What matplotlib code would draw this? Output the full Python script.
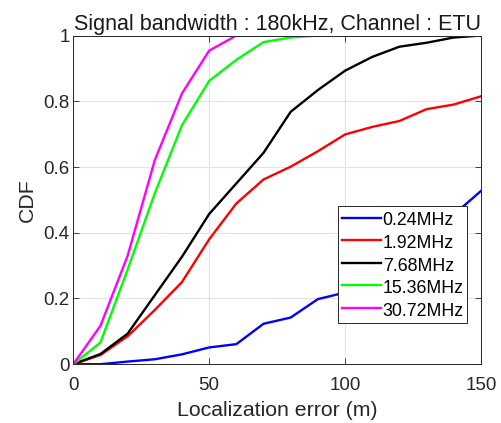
import matplotlib
matplotlib.use("Agg")
import matplotlib.pyplot as plt

plt.rcParams['font.family'] = ['Liberation Sans', 'DejaVu Sans']

err = [0, 10, 20, 30, 40, 50, 60, 70, 80, 90, 100, 110, 120, 130, 140, 150]

cdf_024 = [0, 0.0, 0.008, 0.015, 0.03, 0.051, 0.061, 0.123, 0.142, 0.198, 0.218, 0.26, 0.31, 0.38, 0.455, 0.527]
cdf_192 = [0, 0.028, 0.085, 0.165, 0.25, 0.38, 0.489, 0.562, 0.601, 0.648, 0.699, 0.722, 0.740, 0.776, 0.790, 0.815]
cdf_768 = [0, 0.031, 0.093, 0.21, 0.327, 0.457, 0.55, 0.643, 0.768, 0.834, 0.893, 0.935, 0.966, 0.978, 0.994, 1.0]
cdf_1536 = [0, 0.066, 0.288, 0.52, 0.727, 0.862, 0.926, 0.98, 0.994, 1.0, 1.0, 1.0, 1.0, 1.0, 1.0, 1.0]
cdf_3072 = [0, 0.117, 0.33, 0.621, 0.824, 0.954, 1.0, 1.0, 1.0, 1.0, 1.0, 1.0, 1.0, 1.0, 1.0, 1.0]

labels = ["0.24MHz", "1.92MHz", "7.68MHz", "15.36MHz", "30.72MHz"]
colors = ["#0000ff", "#ff0000", "#000000", "#00ff00", "#ff00ff"]

fig = plt.figure(figsize=(5.02, 4.23), dpi=100)
ax = fig.add_axes([0.146, 0.139, 0.812, 0.777])

for ys, lab, c in zip([cdf_024, cdf_192, cdf_768, cdf_1536, cdf_3072], labels, colors):
    ax.plot(err, ys, color=c, linewidth=1.7, label=lab)

ax.set_xlim(0, 150)
ax.set_ylim(0, 1)
ax.set_xticks([0, 50, 100, 150])
ax.set_yticks([0, 0.2, 0.4, 0.6, 0.8, 1])
ax.set_yticklabels(["0", "0.2", "0.4", "0.6", "0.8", "1"])
ax.grid(True, color="#e3e3e3", linewidth=0.8)
ax.set_axisbelow(True)
ax.tick_params(direction="in", top=True, right=True, labelsize=13.5,
               colors="#262626", length=4, width=0.6)
ax.tick_params(axis="x", pad=9.5)
ax.tick_params(axis="y", pad=2.5)
for s in ax.spines.values():
    s.set_color("#262626")
    s.set_linewidth(0.7)

ax.set_title("Signal bandwidth : 180kHz, Channel : ETU", fontsize=15.5,
             color="#1a1a1a", pad=4)
ax.set_xlabel("Localization error (m)", fontsize=15.3, color="#262626", labelpad=5)
ax.set_ylabel("CDF", fontsize=15.3, color="#262626", labelpad=5)

# taller handle boxes give MATLAB-like row spacing while keeping the side padding tight
leg = ax.legend(loc="upper left", bbox_to_anchor=(0.65, 0.48), fontsize=12.8,
                frameon=True, fancybox=False, handlelength=2.2, handletextpad=0.1,
                handleheight=1.25, borderpad=0.2, labelspacing=0.18, borderaxespad=0)
leg.get_frame().set_edgecolor("#262626")
leg.get_frame().set_linewidth(0.7)
leg.get_frame().set_alpha(1)

fig.savefig("out.png", dpi=100)
